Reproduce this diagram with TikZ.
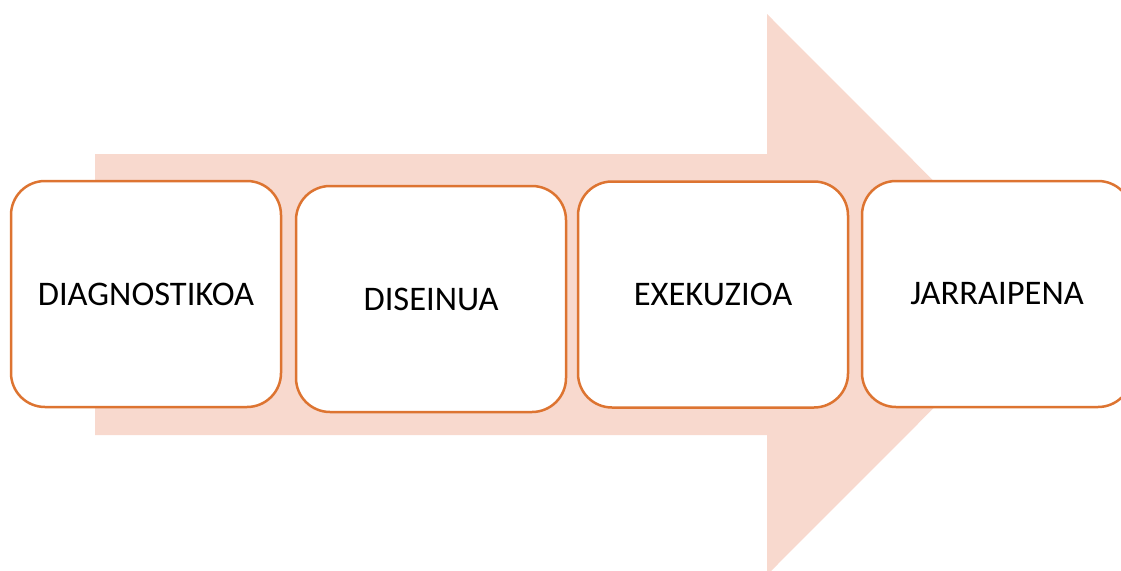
\documentclass[tikz,border=0pt]{standalone}
\usepackage{fontspec}
\setmainfont{Carlito}
\definecolor{arrowfill}{HTML}{F8D9CE}
\definecolor{boxline}{HTML}{DD7431}
\begin{document}
\begin{tikzpicture}[x=1pt,y=-1pt,
  stage/.style={draw=boxline, line width=2.5pt, fill=white, rounded corners=34pt,
    minimum width=270pt, minimum height=226pt, inner sep=0pt,
    font=\fontsize{34.5}{40}\selectfont, text=black}]
\useasboundingbox (0,0) rectangle (1121,570);
\clip (0,0) rectangle (1121,570);
\fill[arrowfill] (95,154) -- (767,154) -- (767,14) -- (1047,294.5) -- (767,575) -- (767,435) -- (95,435) -- cycle;
\node[stage] (diag) at (146,294) {DIAGNOSTIKOA};
\node[stage] (dis) at (431,299) {DISEINUA};
\node[stage] (exe) at (713,294.5) {EXEKUZIOA};
\node[stage] (jar) at (997,294) {JARRAIPENA};
\end{tikzpicture}
\end{document}
